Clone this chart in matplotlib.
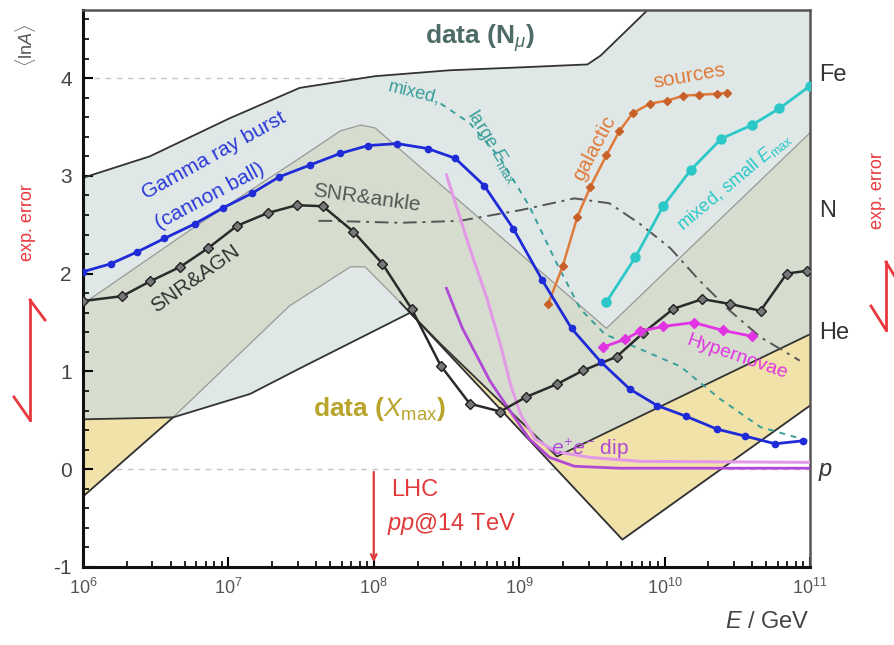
import numpy as np
import matplotlib.pyplot as plt
from matplotlib.patches import Polygon
from matplotlib.lines import Line2D
from matplotlib.ticker import MultipleLocator, LogLocator, NullFormatter

plt.rcParams['font.family'] = ['Liberation Sans', 'DejaVu Sans']
plt.rcParams['mathtext.fontset'] = 'custom'
plt.rcParams['mathtext.rm'] = 'Liberation Sans'
plt.rcParams['mathtext.it'] = 'Liberation Sans:italic'

# --- data bands (log10 E/GeV, <lnA>) ---
nmu_up_logE = [6.0, 6.46, 7.01, 7.49, 8.01, 8.52, 9.01, 9.47, 9.56, 9.90, 10.3, 11.0]
nmu_up = [2.98, 3.20, 3.59, 3.90, 4.02, 4.08, 4.11, 4.14, 4.23, 4.72, 5.1, 5.8]
nmu_lo_logE = [6.0, 6.62, 7.15, 7.49, 8.25, 8.46, 9.26, 11.0]
nmu_lo = [0.51, 0.53, 0.77, 1.03, 1.60, 1.28, 0.13, 1.38]

xmax_up_logE = [6.0, 6.80, 7.49, 7.77, 7.91, 8.01, 9.60, 11.0]
xmax_up = [1.69, 2.51, 3.18, 3.46, 3.52, 3.49, 1.44, 3.44]
xmax_lo_logE = [6.0, 6.62, 7.42, 7.84, 7.94, 8.18, 9.71, 11.0]
xmax_lo = [-0.28, 0.53, 1.67, 2.07, 2.07, 1.71, -0.72, 0.65]

# --- models ---
grb_logE = [6.00, 6.19, 6.37, 6.56, 6.77, 6.96, 7.16, 7.35, 7.56, 7.77, 7.96, 8.16, 8.37,
            8.56, 8.76, 8.96, 9.16, 9.36, 9.56, 9.76, 9.95, 10.15, 10.36, 10.55, 10.76, 10.95]
grb = [2.02, 2.10, 2.22, 2.36, 2.51, 2.67, 2.82, 2.99, 3.11, 3.23, 3.31, 3.33, 3.28,
       3.18, 2.90, 2.46, 1.93, 1.44, 1.10, 0.82, 0.65, 0.54, 0.41, 0.34, 0.26, 0.29]

agn_logE = [6.00, 6.27, 6.46, 6.67, 6.86, 7.06, 7.27, 7.47, 7.65, 7.86, 8.06, 8.26, 8.46,
            8.66, 8.87, 9.05, 9.26, 9.44, 9.67, 9.85, 10.06, 10.26, 10.45, 10.66, 10.84, 10.98]
agn = [1.72, 1.77, 1.92, 2.07, 2.26, 2.49, 2.62, 2.70, 2.69, 2.43, 2.10, 1.64, 1.06,
       0.67, 0.59, 0.74, 0.87, 1.01, 1.15, 1.39, 1.64, 1.74, 1.69, 1.62, 2.00, 2.03]

ankle_logE = [7.62, 7.70, 8.18, 8.59, 9.01, 9.38, 9.62, 9.83, 10.04, 10.24, 10.45, 10.66, 10.93]
ankle = [2.54, 2.54, 2.52, 2.54, 2.65, 2.77, 2.72, 2.51, 2.26, 1.93, 1.62, 1.35, 1.11]

large_logE = [8.46, 8.66, 8.87, 9.07, 9.25, 9.42, 9.59, 9.83, 10.11, 10.38, 10.66, 10.99]
large = [3.74, 3.54, 3.18, 2.69, 2.13, 1.64, 1.38, 1.23, 1.05, 0.72, 0.43, 0.29]

gal_logE = [9.20, 9.30, 9.40, 9.49, 9.60, 9.69, 9.78, 9.90, 10.02, 10.13, 10.24, 10.36, 10.43]
gal = [1.69, 2.08, 2.58, 2.89, 3.21, 3.46, 3.64, 3.74, 3.77, 3.82, 3.83, 3.84, 3.85]

small_logE = [9.60, 9.80, 9.99, 10.18, 10.39, 10.60, 10.79, 11.00]
small = [1.71, 2.17, 2.69, 3.06, 3.38, 3.52, 3.69, 3.92]

hyp_logE = [9.58, 9.73, 9.83, 9.99, 10.20, 10.40, 10.60]
hyp = [1.25, 1.33, 1.41, 1.46, 1.50, 1.42, 1.36]

dip1_logE = [8.50, 8.66, 8.78, 8.87, 8.94, 9.01, 9.11, 9.25, 9.49, 9.83, 11.0]
dip1 = [3.01, 2.26, 1.74, 1.28, 0.87, 0.56, 0.31, 0.18, 0.12, 0.08, 0.07]
dip2_logE = [8.50, 8.61, 8.80, 8.94, 9.07, 9.21, 9.38, 9.69, 11.0]
dip2 = [1.85, 1.44, 0.90, 0.59, 0.31, 0.12, 0.03, 0.01, 0.01]

masses = ['Fe', 'N', 'He', 'p']
ln_mass = [4.03, 2.64, 1.39, 0.0]


def E(logs):
    return 10 ** np.array(logs)


fig = plt.figure(figsize=(8.94, 6.45), dpi=100)
ax = fig.add_axes([0.0928, 0.121, 0.8132, 0.864])
ax.set_xscale('log')
ax.set_xlim(1e6, 1e11)
ax.set_ylim(-1, 4.70)

# bands
nmu_poly = Polygon(np.column_stack([np.r_[E(nmu_up_logE), E(nmu_lo_logE)[::-1]],
                                    np.r_[nmu_up, nmu_lo[::-1]]]),
                   closed=True, facecolor='#dfe8e6', edgecolor='none', zorder=1)
ax.add_patch(nmu_poly)
xmax_xy = np.column_stack([np.r_[E(xmax_up_logE), E(xmax_lo_logE)[::-1]],
                           np.r_[xmax_up, xmax_lo[::-1]]])
ax.add_patch(Polygon(xmax_xy, closed=True, facecolor='#f0e2a8', edgecolor='none', zorder=1.1))
overlap = Polygon(xmax_xy, closed=True, facecolor='#d6ddcf', edgecolor='none', zorder=1.2)
ax.add_patch(overlap)
overlap.set_clip_path(nmu_poly)

ax.axhline(0, color='#c4c4c4', ls=(0, (4, 4)), lw=1, zorder=0.5)
ax.axhline(4, color='#c4c4c4', ls=(0, (4, 4)), lw=1, zorder=0.5)

ax.plot(E(xmax_up_logE), xmax_up, color='#999999', lw=0.9, zorder=1.5)
ax.plot(E(xmax_lo_logE), xmax_lo, color='#999999', lw=0.9, zorder=1.5)
ax.plot(E(xmax_lo_logE[:2]), xmax_lo[:2], color='#333333', lw=1.3, zorder=1.6)
ax.plot(E(xmax_lo_logE[5:]), xmax_lo[5:], color='#333333', lw=1.3, zorder=1.6)
ax.plot(E(nmu_up_logE), nmu_up, color='#333333', lw=1.3, zorder=1.6)
ax.plot(E(nmu_lo_logE), nmu_lo, color='#333333', lw=1.3, zorder=1.6)

# models
ax.plot(E(ankle_logE), ankle, color='#555555', lw=1.4, ls=(0, (7, 3, 1.5, 3)), zorder=3)
ax.plot(E(large_logE), large, color='#3a9e9a', lw=1.4, ls=(0, (3, 3)), zorder=3)
ax.plot(E(dip1_logE), dip1, color='#e39ae6', lw=2.2, zorder=3)
ax.plot(E(dip2_logE), dip2, color='#b04ad6', lw=2.0, zorder=3.1)
ax.plot(E(agn_logE), agn, color='#2a2a2a', lw=1.8, marker='D', ms=5.5,
        mfc='#777777', mec='#222222', mew=1.0, zorder=4)
ax.plot(E(grb_logE), grb, color='#1f2bd6', lw=2.0, marker='o', ms=4.5, zorder=5)
ax.plot(E(gal_logE), gal, color='#e07a3a', lw=1.8, marker='D', ms=4.5,
        mfc='#c8602a', mec='#c8602a', zorder=4)
ax.plot(E(small_logE), small, color='#2cc8c8', lw=2.0, marker='o', ms=6.5, zorder=4)
ax.plot(E(hyp_logE), hyp, color='#e234e2', lw=2.0, marker='D', ms=5, zorder=4.5)

# LHC arrow
ax.annotate('', xy=(1e8, -0.98), xytext=(1e8, 0.0),
            arrowprops=dict(arrowstyle='->', color='#e03a3a', lw=1.6), zorder=6)
ax.text(10 ** 8.12, -0.21, 'LHC', color='#e03a3a', fontsize=17, va='center', ha='left')
ax.text(10 ** 8.09, -0.56, '$pp$@14 TeV', color='#e03a3a', fontsize=17, va='center', ha='left')

# labels inside the plot
ax.text(10 ** 8.73, 4.41, 'data (N$_\\mu$)', color='#4d6b67', fontsize=19,
        fontweight='bold', ha='center', va='center', zorder=7)
ax.text(10 ** 8.04, 0.62, 'data ($X_{\\mathrm{max}}$)', color='#b9a52c', fontsize=19,
        fontweight='bold', ha='center', va='center', zorder=7)
ax.text(10 ** 6.90, 3.21, 'Gamma ray burst', color='#2b39d8', fontsize=15,
        rotation=29, ha='center', va='center', zorder=7)
ax.text(10 ** 6.87, 2.79, '(cannon ball)', color='#2b39d8', fontsize=15,
        rotation=28, ha='center', va='center', zorder=7)
ax.text(10 ** 6.77, 1.95, 'SNR&AGN', color='#333333', fontsize=15,
        rotation=35, ha='center', va='center', zorder=7)
ax.text(10 ** 7.95, 2.77, 'SNR&ankle', color='#555555', fontsize=15,
        rotation=-8, ha='center', va='center', zorder=7)
ax.text(10 ** 8.28, 3.85, 'mixed,', color='#3a9e9a', fontsize=13,
        rotation=-14, ha='center', va='center', zorder=7)
ax.text(10 ** 8.82, 3.30, 'large $E_{\\mathrm{max}}$', color='#3a9e9a', fontsize=13,
        rotation=-58, ha='center', va='center', zorder=7)
ax.text(10 ** 9.52, 3.28, 'galactic', color='#e07a3a', fontsize=15,
        rotation=62, ha='center', va='center', zorder=7)
ax.text(10 ** 10.17, 4.02, 'sources', color='#e07a3a', fontsize=15,
        rotation=10, ha='center', va='center', zorder=7)
ax.text(10 ** 10.48, 2.94, 'mixed, small $E_{\\mathrm{max}}$', color='#2cc8c8', fontsize=13,
        rotation=40, ha='center', va='center', zorder=7)
ax.text(10 ** 10.50, 1.15, 'Hypernovae', color='#e234e2', fontsize=14,
        rotation=-19, ha='center', va='center', zorder=7)
ax.text(10 ** 9.49, 0.21, '$e^{+}e^{-}$ dip', color='#b04ad6', fontsize=15,
        ha='center', va='center', zorder=7)

# mass labels on the right
for name, val in zip(masses, ln_mass):
    style = 'italic' if name == 'p' else 'normal'
    ax.text(1.012, val, name, transform=ax.get_yaxis_transform(), fontsize=17,
            color='#333333', va='center', ha='left', style=style)

# axes styling
ax.yaxis.set_major_locator(MultipleLocator(1))
ax.yaxis.set_minor_locator(MultipleLocator(0.2))
ax.xaxis.set_major_locator(LogLocator(base=10, numticks=10))
ax.xaxis.set_minor_locator(LogLocator(base=10, subs=np.arange(2, 10), numticks=50))
ax.xaxis.set_minor_formatter(NullFormatter())
ax.tick_params(axis='both', which='both', direction='in', top=False, right=False)
ax.tick_params(axis='both', which='major', length=7, width=1.5, labelsize=13,
               labelcolor='#555555')
ax.tick_params(axis='both', which='minor', length=4, width=1.2)
ax.tick_params(axis='y', labelsize=15, labelcolor='#444444', pad=8)
ax.tick_params(axis='x', pad=8)
ax.set_xticks([1e6, 1e7, 1e8, 1e9, 1e10, 1e11])
ax.set_xticklabels(['10$^{6}$', '10$^{7}$', '10$^{8}$', '10$^{9}$', '10$^{10}$', '10$^{11}$'])
ax.set_yticks([-1, 0, 1, 2, 3, 4])
ax.set_yticklabels(['-1', '0', '1', '2', '3', '4'])
for side in ['left', 'bottom']:
    ax.spines[side].set_linewidth(2.2)
    ax.spines[side].set_color('#111111')
for side in ['top', 'right']:
    ax.spines[side].set_linewidth(1.8)
    ax.spines[side].set_color('#555555')

fig.text(0.906, 0.018, '$E$ / GeV', fontsize=17, color='#444444', ha='right', va='bottom')
fig.text(0.028, 0.93, '$\\langle$ln$A\\rangle$', fontsize=13, color='#555555', rotation=90,
         ha='center', va='center')

# experimental error indicators
red = '#e8383d'
fig.text(0.031, 0.655, 'exp. error', fontsize=13, color=red, rotation=90,
         ha='center', va='center')
fig.add_artist(Line2D([30 / 894, 30 / 894], [1 - 300 / 645, 1 - 420 / 645],
                      transform=fig.transFigure, color=red, lw=2))
fig.add_artist(Line2D([30 / 894, 45 / 894], [1 - 300 / 645, 1 - 320 / 645],
                      transform=fig.transFigure, color=red, lw=2))
fig.add_artist(Line2D([30 / 894, 14 / 894], [1 - 420 / 645, 1 - 397 / 645],
                      transform=fig.transFigure, color=red, lw=2))
fig.text(0.982, 0.705, 'exp. error', fontsize=13, color=red, rotation=90,
         ha='center', va='center')
fig.add_artist(Line2D([886 / 894, 886 / 894], [1 - 262 / 645, 1 - 330 / 645],
                      transform=fig.transFigure, color=red, lw=2))
fig.add_artist(Line2D([886 / 894, 871 / 894], [1 - 330 / 645, 1 - 306 / 645],
                      transform=fig.transFigure, color=red, lw=2))
fig.add_artist(Line2D([886 / 894, 900 / 894], [1 - 262 / 645, 1 - 285 / 645],
                      transform=fig.transFigure, color=red, lw=2))

plt.savefig('out.png', dpi=100)
